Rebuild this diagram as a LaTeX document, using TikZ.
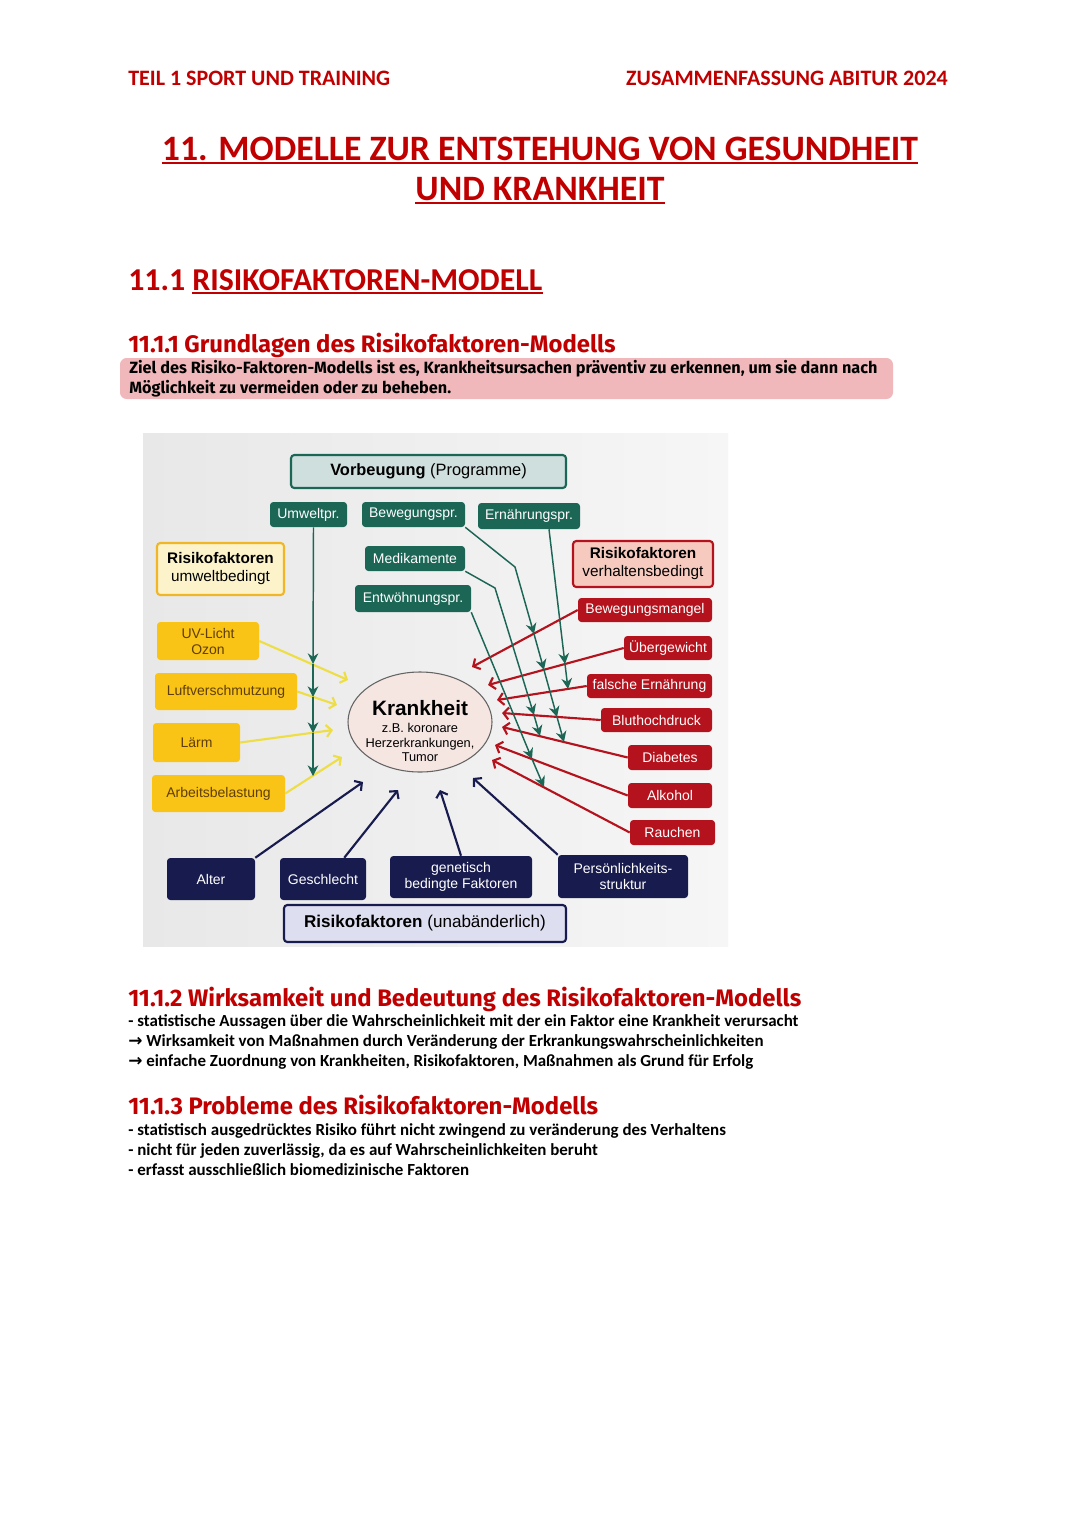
\documentclass[tikz,border=0pt]{standalone}
\usepackage{fontspec}
\setmainfont{Carlito}
\setsansfont{Liberation Sans}
\newfontfamily\subfont{Fira Sans}
\newfontfamily\symfont{DejaVu Sans}
\usetikzlibrary{arrows.meta, shapes.geometric}

\definecolor{headred}{RGB}{192,0,0}
\definecolor{zielpink}{RGB}{240,184,186}
\definecolor{photogray}{RGB}{232,232,232}
\definecolor{photolight}{RGB}{246,246,246}
\definecolor{prevgreen}{RGB}{28,102,86}
\definecolor{prevlight}{RGB}{206,223,221}
\definecolor{riskred}{RGB}{180,18,28}
\definecolor{riskpink}{RGB}{246,202,190}
\definecolor{envyellow}{RGB}{250,196,22}
\definecolor{envlight}{RGB}{252,243,202}
\definecolor{envborder}{RGB}{240,182,40}
\definecolor{envline}{RGB}{238,222,70}
\definecolor{envtext}{RGB}{95,62,10}
\definecolor{fixnavy}{RGB}{24,27,78}
\definecolor{fixlight}{RGB}{221,222,240}
\definecolor{sickpink}{RGB}{246,230,226}
\definecolor{sickgray}{RGB}{100,100,100}

\tikzset{
  boxsize/.style 2 args={minimum width=#1*0.75pt, minimum height=#2*0.75pt},
  boxtext/.style={font=\sffamily\fontsize{10.5}{12.5}\selectfont, inner sep=0pt, align=center, rounded corners=2.5pt},
  prevbox/.style={boxtext, fill=prevgreen, text=white},
  riskbox/.style={boxtext, fill=riskred, text=white},
  envbox/.style={boxtext, fill=envyellow, text=envtext},
  fixbox/.style={boxtext, fill=fixnavy, text=white},
  headbox/.style={boxtext, font=\sffamily\fontsize{11.5}{13.5}\selectfont, line width=1.6pt},
  envarrow/.style={envline, line width=1.6pt, -{Straight Barb[length=4pt, width=9pt]}},
  riskarrow/.style={riskred, line width=1.6pt, -{Straight Barb[length=4pt, width=9pt]}},
  fixarrow/.style={fixnavy, line width=1.6pt, -{Straight Barb[length=4pt, width=9pt]}},
  prevline/.style={prevgreen, line width=1.1pt, -{Stealth[length=8pt, width=8pt]}},
  underl/.style={headred, line width=1.4pt},
  pagehead/.style={font=\bfseries\fontsize{16.5}{20}\selectfont, text=headred, inner sep=0pt},
  pagetitle/.style={font=\bfseries\fontsize{26.8}{32}\selectfont, text=headred, inner sep=0pt, anchor=base},
  sectitle/.style={font=\bfseries\fontsize{23.9}{28}\selectfont, text=headred, inner sep=0pt, anchor=base west},
  subtitle/.style={font=\subfont\bfseries\fontsize{17.9}{21}\selectfont, text=headred, inner sep=0pt, anchor=base west},
  zielline/.style={font=\subfont\bfseries\fontsize{12.2}{15}\selectfont, inner sep=0pt, anchor=base west},
  bodyline/.style={font=\bfseries\fontsize{12.7}{15}\selectfont, inner sep=0pt, anchor=base west},
}

\begin{document}
\begin{tikzpicture}[x=0.75pt, y=-0.75pt]
  \useasboundingbox (0,0) rectangle (1080,1528);
  \fill[white] (0,0) rectangle (1080,1528);

  % page head
  \node[pagehead, anchor=base west] (teil) at (128,85) {TEIL 1 SPORT UND TRAINING};
  \node[pagehead, anchor=base east] (abitur) at (948,85) {ZUSAMMENFASSUNG ABITUR 2024};
  \node[pagetitle] (title1) at (540,160) {11. MODELLE ZUR ENTSTEHUNG VON GESUNDHEIT};
  \node[pagetitle] (title2) at (540,200) {UND KRANKHEIT};
  \draw[underl] ([yshift=-2pt]title1.south west) -- ([yshift=-2pt]title1.south east);
  \draw[underl] ([yshift=-2pt]title2.south west) -- ([yshift=-2pt]title2.south east);
  \node[sectitle] (secnum) at (128,290) {11.1};
  \node[sectitle] (secword) at ([xshift=5pt]secnum.base east) {RISIKOFAKTOREN-MODELL};
  \draw[underl] ([yshift=-2pt]secword.south west) -- ([yshift=-2pt]secword.south east);

  % 11.1.1
  \node[subtitle] (sub1) at (128,352) {11.1.1 Grundlagen des Risikofaktoren-Modells};
  \node[fill=zielpink, rounded corners=5pt, boxsize={773}{41}] (ziel) at (506.5,378.5) {};
  \node[zielline] (ziel1) at (129,373) {Ziel des Risiko-Faktoren-Modells ist es, Krankheitsursachen präventiv zu erkennen, um sie dann nach};
  \node[zielline] (ziel2) at (129,393) {Möglichkeit zu vermeiden oder zu beheben.};

  % photo of the model
  \shade[left color=photogray, right color=photolight] (143,433) rectangle (728,946);

  % prevention
  \node[headbox, draw=prevgreen, fill=prevlight, font=\sffamily\fontsize{12.3}{14}\selectfont, boxsize={275}{33}] (vorb) at (428.5,471.5) {\textbf{Vorbeugung} (Programme)};
  \node[prevbox, boxsize={77}{25}] (umw) at (308.5,514.5) {Umweltpr.};
  \node[prevbox, boxsize={103}{25}] (bewpr) at (413.5,514.5) {Bewegungspr.};
  \node[prevbox, boxsize={102}{26}] (ernpr) at (529,516) {Ernährungspr.};
  \node[prevbox, boxsize={100}{25}] (medi) at (415,558.5) {Medikamente};
  \node[prevbox, boxsize={116}{27}] (entw) at (413,598.5) {Entwöhnungspr.};

  % environment factors
  \node[headbox, draw=envborder, fill=envlight, boxsize={127}{52}] (rfumw) at (220.5,569) {\textbf{Risikofaktoren}\\umweltbedingt};
  \node[envbox, boxsize={102}{38}, font=\sffamily\fontsize{10.5}{12}\selectfont] (uv) at (208,641) {UV-Licht\\Ozon};
  \node[envbox, boxsize={142}{37}] (luft) at (226,691.5) {Luftverschmutzung};
  \node[envbox, boxsize={87}{39}] (laerm) at (196.5,742.5) {Lärm};
  \node[envbox, boxsize={133}{37}] (arb) at (218.5,793.5) {Arbeitsbelastung};

  % behaviour factors
  \node[headbox, draw=riskred, fill=riskpink, boxsize={140}{46}] (rfverh) at (643,564) {\textbf{Risikofaktoren}\\verhaltensbedingt};
  \node[riskbox, boxsize={134}{24}] (bewm) at (645,610) {Bewegungsmangel};
  \node[riskbox, boxsize={88}{24}] (ueber) at (668,648) {Übergewicht};
  \node[riskbox, boxsize={125}{24}] (falsch) at (649.5,686) {falsche Ernährung};
  \node[riskbox, boxsize={111}{24}] (blut) at (656.5,720) {Bluthochdruck};
  \node[riskbox, boxsize={84}{25}] (diab) at (670,757.5) {Diabetes};
  \node[riskbox, boxsize={84}{25}] (alk) at (670,795.5) {Alkohol};
  \node[riskbox, boxsize={85}{25}] (rauch) at (672.5,832.5) {Rauchen};

  % disease
  \node[ellipse, draw=sickgray, fill=sickpink, line width=0.8pt, inner sep=0pt, boxsize={144}{100}] (krank) at (420,722) {};
  \node[align=center, inner sep=0pt, font=\sffamily\fontsize{9.6}{11}\selectfont] (kranktext) at (420,731)
    {{\fontsize{15.6}{18}\selectfont\textbf{Krankheit}}\\[2pt]z.B. koronare\\Herzerkrankungen,\\Tumor};

  % fixed factors
  \node[fixbox, boxsize={88}{42}] (alter) at (211,879) {Alter};
  \node[fixbox, boxsize={86}{42}] (geschl) at (323,879) {Geschlecht};
  \node[fixbox, boxsize={142}{42}] (gen) at (461,877) {genetisch\\bedingte Faktoren};
  \node[fixbox, boxsize={130}{43}] (pers) at (623,876.5) {Persönlichkeits-\\struktur};
  \node[headbox, draw=fixnavy, fill=fixlight, font=\sffamily\fontsize{12.8}{15}\selectfont, boxsize={282}{37}] (rffix) at (425,923.5) {\textbf{Risikofaktoren} (unabänderlich)};

  % arrow ends at the disease
  \coordinate (kuv) at (348,680);
  \coordinate (kluft) at (337,705);
  \coordinate (klaerm) at (333,730);
  \coordinate (karb) at (342,757);
  \coordinate (kbewm) at (472,667);
  \coordinate (kueber) at (488,685);
  \coordinate (kfalsch) at (497,700);
  \coordinate (kblut) at (502,713);
  \coordinate (kdiab) at (502,727);
  \coordinate (kalk) at (495,745);
  \coordinate (krauch) at (492,760);
  \coordinate (kalter) at (363,782);
  \coordinate (kgeschl) at (398,790);
  \coordinate (kgen) at (440,790);
  \coordinate (kpers) at (473,778);

  % where prevention cuts in
  \coordinate (u1) at (313,664);
  \coordinate (u2) at (313,697);
  \coordinate (u3) at (313,733);
  \coordinate (u4) at (313,776);
  \coordinate (bk) at (515,567);
  \coordinate (b1) at (534,634);
  \coordinate (b2) at (544,670);
  \coordinate (b3) at (557,717);
  \coordinate (b4) at (564,742);
  \coordinate (mk) at (495,588);
  \coordinate (m1) at (534,715);
  \coordinate (m2) at (540,736);
  \coordinate (e1) at (532,759);
  \coordinate (e2) at (544,787);
  \coordinate (r1) at (565,664);
  \coordinate (r2) at (568,689);

  % risk arrows
  \draw[envarrow] (uv.east) -- (kuv);
  \draw[envarrow] (luft.east) -- (kluft);
  \draw[envarrow] (laerm.east) -- (klaerm);
  \draw[envarrow] (arb.east) -- (karb);
  \draw[riskarrow] (bewm.west) -- (kbewm);
  \draw[riskarrow] (ueber.west) -- (kueber);
  \draw[riskarrow] (falsch.west) -- (kfalsch);
  \draw[riskarrow] (blut.west) -- (kblut);
  \draw[riskarrow] (diab.west) -- (kdiab);
  \draw[riskarrow] (alk.west) -- (kalk);
  \draw[riskarrow] (rauch.west) -- (krauch);
  \draw[fixarrow] (alter.north east) -- (kalter);
  \draw[fixarrow] (geschl.45) -- (kgeschl);
  \draw[fixarrow] (gen.north) -- (kgen);
  \draw[fixarrow] (pers.north west) -- (kpers);

  % prevention lines
  \draw[prevline] ([xshift=3.75pt]umw.south) -- (u1);
  \draw[prevline] (u1) -- (u2);
  \draw[prevline] (u2) -- (u3);
  \draw[prevline] (u3) -- (u4);
  \draw[prevline] (bewpr.south east) -- (bk) -- (b1);
  \draw[prevline] (b1) -- (b2);
  \draw[prevline] (b2) -- (b3);
  \draw[prevline] (b3) -- (b4);
  \draw[prevline] (medi.south east) -- (mk) -- (m1);
  \draw[prevline] (m1) -- (m2);
  \draw[prevline] (entw.south east) -- (e1);
  \draw[prevline] (e1) -- (e2);
  \draw[prevline] ([xshift=15pt]ernpr.south) -- (r1);
  \draw[prevline] (r1) -- (r2);

  % 11.1.2
  \node[subtitle] (sub2) at (128,1006) {11.1.2 Wirksamkeit und Bedeutung des Risikofaktoren-Modells};
  \node[bodyline] (w1) at (128,1026) {- statistische Aussagen über die Wahrscheinlichkeit mit der ein Faktor eine Krankheit verursacht};
  \node[bodyline] (w2) at (128,1046) {{\symfont →} Wirksamkeit von Maßnahmen durch Veränderung der Erkrankungswahrscheinlichkeiten};
  \node[bodyline] (w3) at (128,1066) {{\symfont →} einfache Zuordnung von Krankheiten, Risikofaktoren, Maßnahmen als Grund für Erfolg};

  % 11.1.3
  \node[subtitle] (sub3) at (128,1114) {11.1.3 Probleme des Risikofaktoren-Modells};
  \node[bodyline] (p1) at (128,1135) {- statistisch ausgedrücktes Risiko führt nicht zwingend zu veränderung des Verhaltens};
  \node[bodyline] (p2) at (128,1155) {- nicht für jeden zuverlässig, da es auf Wahrscheinlichkeiten beruht};
  \node[bodyline] (p3) at (128,1175) {- erfasst ausschließlich biomedizinische Faktoren};
\end{tikzpicture}
\end{document}
